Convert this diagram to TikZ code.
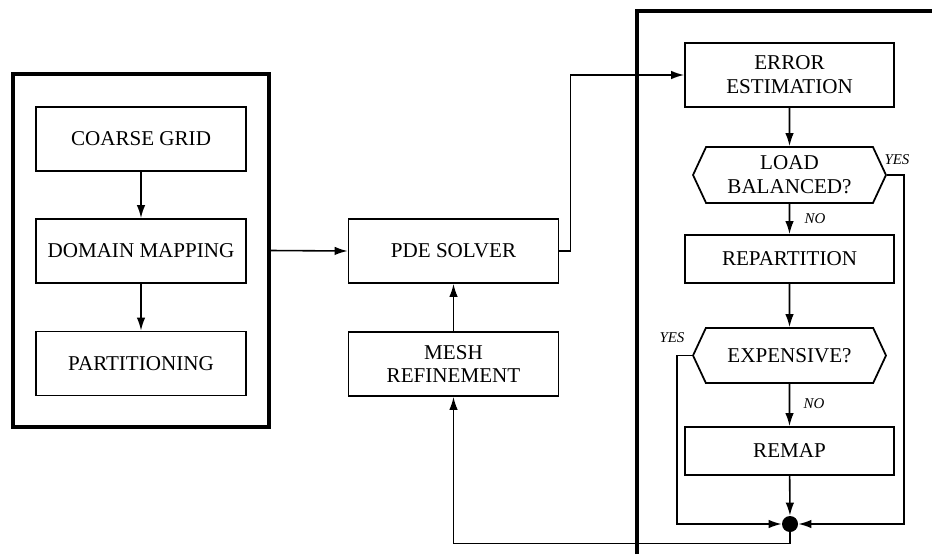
\documentclass[tikz,border=0pt]{standalone}
\usepackage{fontspec}
\setmainfont{Liberation Serif}
\usetikzlibrary{arrows.meta, shapes.symbols}

\begin{document}
\begin{tikzpicture}[x=0.02cm, y=-0.02cm,
    box/.style={rectangle, draw, line width=1pt, minimum width=4.2cm, minimum height=1.28cm, align=center, font=\fontsize{12}{13.6}\selectfont},
    test/.style={signal, signal to=west and east, signal pointer angle=130, draw, line width=1pt, minimum width=3.86cm, minimum height=1.12cm, inner xsep=0pt, align=center, font=\fontsize{12}{13.6}\selectfont},
    frame/.style={rectangle, draw, line width=2pt, inner sep=0pt},
    lbl/.style={font=\fontsize{8.5}{10}\itshape},
    arrow/.style={-{Latex[length=0.26cm, width=0.17cm]}, line width=0.9pt}]
    \useasboundingbox (0,0) rectangle (932,554);

    % Preprocessing
    \node[frame, minimum width=5.12cm, minimum height=7.06cm] (prep) at (141,250.5) {};
    \node[box] (coarse) at (141,139) {COARSE GRID};
    \node[box] (domain) at (141,251) {DOMAIN MAPPING};
    \node[box] (part) at (141,363.5) {PARTITIONING};

    % Solver loop
    \node[box] (solver) at (453.5,251) {PDE SOLVER};
    \node[box] (mesh) at (453.5,364) {MESH\\REFINEMENT};

    % Load balancing
    \draw[line width=2.2pt] (637,554) -- (637,11) -- (932,11);
    \node[box, minimum width=4.18cm] (error) at (789.5,75) {ERROR\\ESTIMATION};
    \node[test] (load) at (789.5,175) {LOAD\\BALANCED?};
    \node[box, minimum width=4.18cm, minimum height=0.96cm] (repart) at (789.5,259) {REPARTITION};
    \node[test, minimum height=1.1cm] (exp) at (789.5,355.5) {EXPENSIVE?};
    \node[box, minimum width=4.18cm, minimum height=0.96cm] (remap) at (789.5,451) {REMAP};
    \node[circle, fill, inner sep=0pt, minimum size=0.32cm] (dot) at (790,524) {};

    % Labels
    \node[lbl] (yesA) at (897,160) {YES};
    \node[lbl] (noA) at (815,219) {NO};
    \node[lbl] (yesB) at (672,338) {YES};
    \node[lbl] (noB) at (814,404) {NO};

    % Connections
    \draw[arrow] (coarse) -- (domain);
    \draw[arrow] (domain) -- (part);
    \draw[arrow] (prep.east) -- (solver.west);
    \draw[arrow] (solver.east) -- ++(11,0) |- (error.west);
    \draw[arrow] (mesh) -- (solver);
    \draw[arrow] (error) -- (load);
    \draw[arrow] (load) -- (repart);
    \draw[arrow] (repart) -- (exp);
    \draw[arrow] (exp) -- (remap);
    \draw[arrow] (remap) -- (dot);
    \draw[arrow] (load.east) -- ++(17,0) |- (dot.east);
    \draw[arrow] (exp.west) -- ++(-15,0) |- (dot.west);
    \draw[arrow] (dot.south) -- ++(0,11) -| (mesh.south);
\end{tikzpicture}
\end{document}
